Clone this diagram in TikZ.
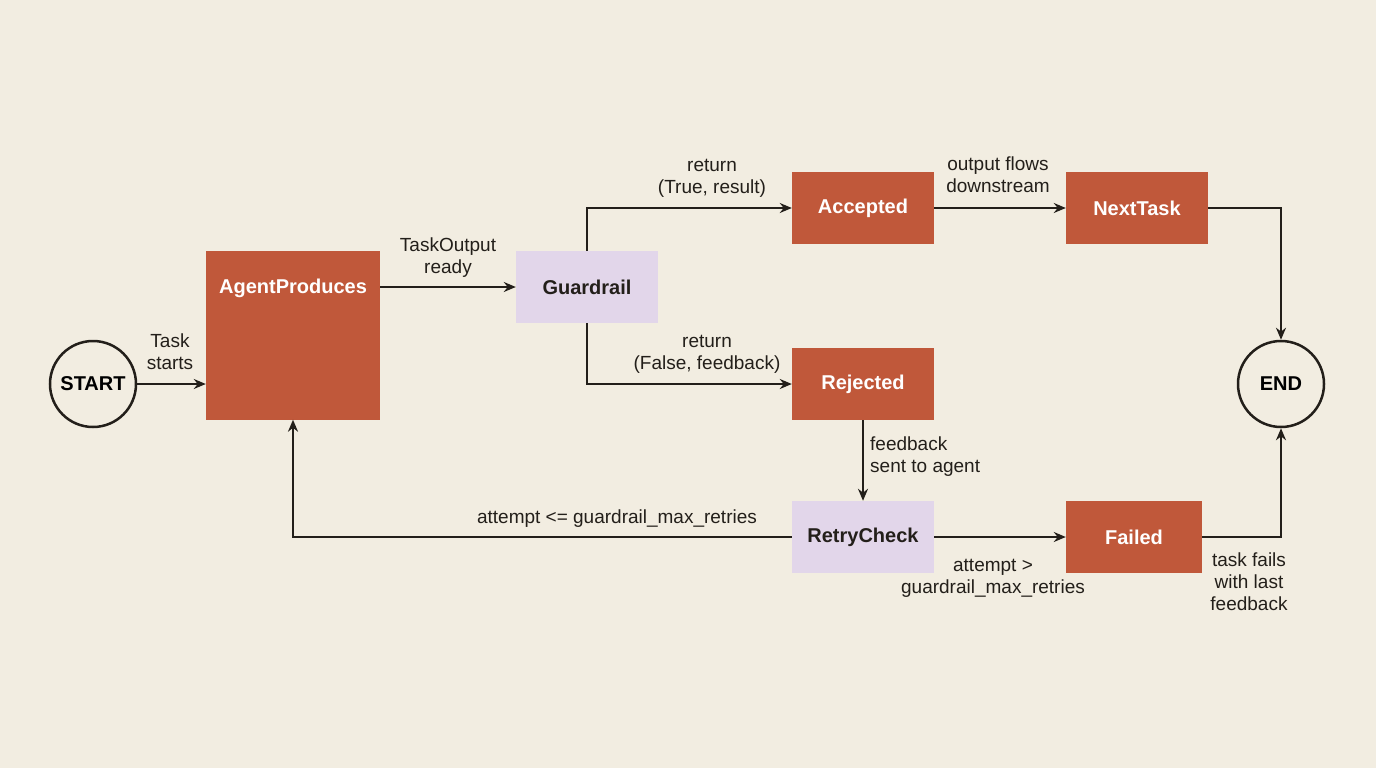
\documentclass[tikz,border=0pt]{standalone}
\usepackage{fontspec}
\setmainfont{Liberation Sans}
\usetikzlibrary{arrows.meta,positioning}
\definecolor{bgcol}{HTML}{F2EDE1}
\definecolor{boxred}{HTML}{C0583A}
\definecolor{boxlilac}{HTML}{E2D6EA}
\definecolor{linecol}{HTML}{231F1A}
\tikzset{
	stage/.style={fill=boxred,text=white,font=\fontsize{20}{24}\selectfont\bfseries,minimum width=142pt,minimum height=72pt,inner sep=0pt},
	check/.style={stage,fill=boxlilac,text=linecol},
	term/.style={circle,draw=linecol,line width=2.5pt,fill=bgcol,minimum size=86pt,inner sep=0pt,font=\fontsize{20}{24}\selectfont\bfseries},
	flow/.style={draw=linecol,line width=2.5pt,-{Stealth[length=12pt,width=10pt]}},
	lbl/.style={font=\fontsize{19}{22}\selectfont,align=center,text=linecol,inner sep=1pt}
}
\begin{document}
\begin{tikzpicture}[x=1pt,y=-1pt]
	\fill[bgcol] (0,0) rectangle (1376,768);
	\useasboundingbox (0,0) rectangle (1376,768);
	\node[term] (start) at (93,384) {START};
	\node[term] (end) at (1281,384) {END};
	\node[stage,minimum width=174pt,minimum height=169pt] (agent) at (293,335) {};
	\node[text=white,font=\fontsize{20}{24}\selectfont\bfseries] (agenttxt) at (293,288) {AgentProduces};
	\node[check] (guard) at (587,287) {Guardrail};
	\node[stage] (acc) at (863,208) {Accepted};
	\node[stage] (next) at (1137,208) {NextTask};
	\node[stage] (rej) at (863,384) {Rejected};
	\node[check] (retry) at (863,537) {RetryCheck};
	\node[stage,minimum width=136pt] (fail) at (1134,537) {Failed};
	% connectors
	\draw[flow] (start) -- (agent.west |- start);
	\draw[flow] (agent.east |- guard) -- (guard);
	\draw[flow] (guard.north) |- (acc.west);
	\draw[flow] (guard.south) |- (rej.west);
	\draw[flow] (acc) -- (next);
	\draw[flow] (next.east) -| (end.north);
	\draw[flow] (rej) -- (retry);
	\draw[flow] (retry.west) -| (agent.south);
	\draw[flow] (retry) -- (fail);
	\draw[flow] (fail.east) -| (end.south);
	% labels
	\node[lbl] (l1) at (170,352) {Task\\starts};
	\node[lbl] (l2) at (448,258) {TaskOutput\\ready};
	\node[lbl] (l3) at (712,178) {return\\(True, result)};
	\node[lbl] (l4) at (707,354) {return\\(False, feedback)};
	\node[lbl] (l5) at (998,175) {output flows\\downstream};
	\node[lbl,align=left,anchor=west] (l6) at (869,457) {feedback\\sent to agent};
	\node[lbl] (l7) at (617,519) {attempt <= guardrail\_max\_retries};
	\node[lbl] (l8) at (993,578) {attempt >\\guardrail\_max\_retries};
	\node[lbl] (l9) at (1249,582) {task fails\\with last\\feedback};
\end{tikzpicture}
\end{document}
